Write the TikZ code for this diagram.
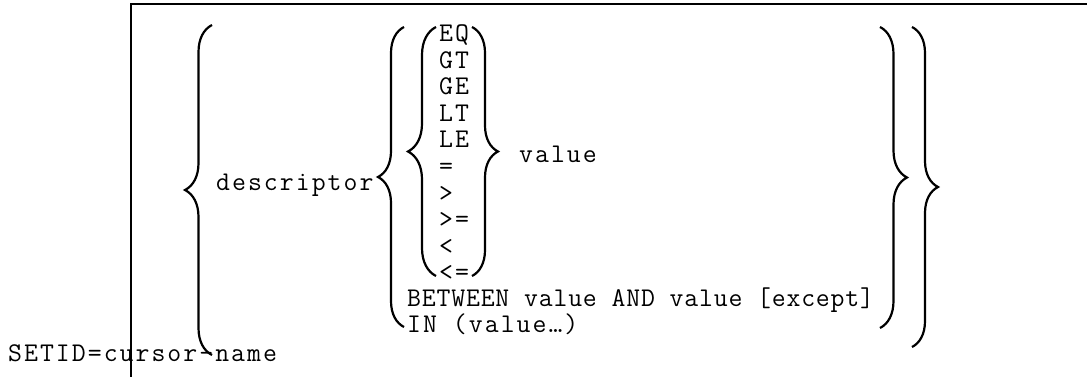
\documentclass[tikz,border=0pt]{standalone}
\usepackage{fontspec}
\newfontfamily\syntaxfont{Latin Modern Mono}[LetterSpace=7.5]
\newfontfamily\syntaxnarrow{Latin Modern Mono}[LetterSpace=3]
\usetikzlibrary{decorations.pathreplacing}

\begin{document}
\begin{tikzpicture}[x=1pt,y=-1pt,
    syntax/.style={anchor=base west,inner sep=0pt,font=\fontsize{27}{29}\syntaxfont},
    curly/.style={decorate,decoration={brace,amplitude=#1},line width=2.2pt}]
    \useasboundingbox (0,0) rectangle (1087,377);
    % the open frame
    \draw[line width=1.8pt] (131,377) -- (131,4) -- (1087,4);
    % texts
    \node[syntax] (setid) at (8,361) {SETID=cursor-name};
    \node[syntax] (descriptor) at (216,190) {descriptor};
    \foreach \op [count=\i] in {EQ,GT,GE,LT,LE,=,>,>=,<,<=}
        \node[syntax] (op\i) at (439,{41.5+26.6*(\i-1)}) {\op};
    \node[syntax] (value) at (519,162) {value};
    \node[syntax,font=\fontsize{27}{29}\syntaxnarrow] (between) at (407,306) {BETWEEN value AND value [except]};
    \node[syntax] (in) at (407,332) {IN (value…)};
    % left braces, drawn upwards
    \draw[curly=27] (212,355) -- (212,25);
    \draw[curly=26] (404,327) -- (404,27);
    \draw[curly=28] (436,276) -- (436,27);
    % right braces, drawn downwards
    \draw[curly=26] (472,27) -- (472,276);
    \draw[curly=27] (880,27) -- (880,328);
    \draw[curly=26] (912,27) -- (912,347);
\end{tikzpicture}
\end{document}
